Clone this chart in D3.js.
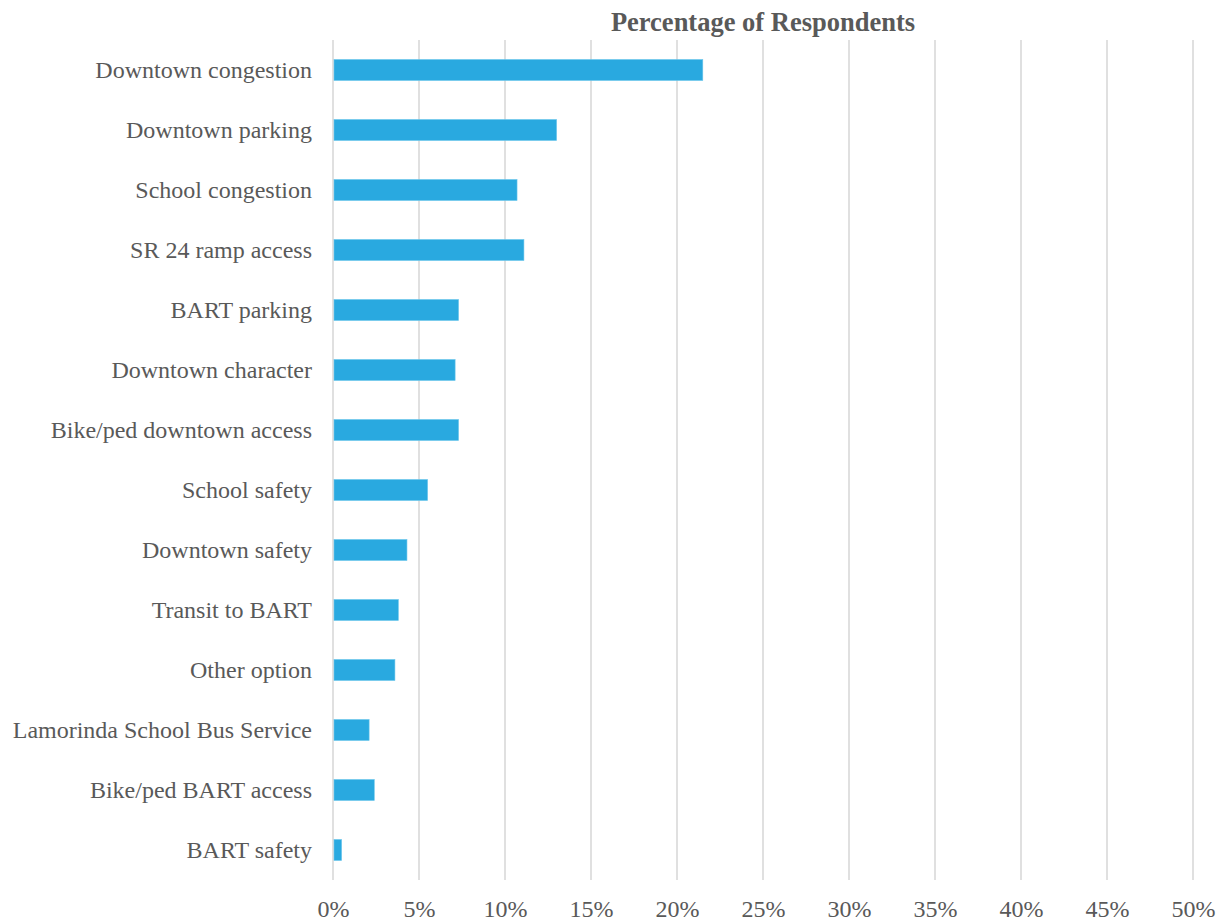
<!DOCTYPE html>
<html>
<head>
<meta charset="utf-8">
<script src="https://cdn.jsdelivr.net/npm/d3@7"></script>
<style>
  html, body { margin: 0; padding: 0; background: #ffffff; }
  svg { display: block; }
</style>
</head>
<body>
<svg id="chart" width="1223" height="923"></svg>
<script>
// Survey responses: share of respondents naming each issue
const categories = [
  "Downtown congestion",
  "Downtown parking",
  "School congestion",
  "SR 24 ramp access",
  "BART parking",
  "Downtown character",
  "Bike/ped downtown access",
  "School safety",
  "Downtown safety",
  "Transit to BART",
  "Other option",
  "Lamorinda School Bus Service",
  "Bike/ped BART access",
  "BART safety"
];
const percentValues = [21.5, 13.0, 10.7, 11.1, 7.3, 7.1, 7.3, 5.5, 4.3, 3.8, 3.6, 2.1, 2.4, 0.5];
const tickValues = [0, 5, 10, 15, 20, 25, 30, 35, 40, 45, 50];
const chartTitle = "Percentage of Respondents";

const svg = d3.select("#chart");
const margin = { top: 40, right: 30, bottom: 43, left: 333 };
const width = 1223, height = 923;
const innerW = 1193 - margin.left;
const innerH = height - margin.top - margin.bottom;

const textColor = "#595959";
const fontFamily = "'Liberation Serif', 'Times New Roman', serif";

const x = d3.scaleLinear().domain([0, 50]).range([0, innerW]);
const y = d3.scaleBand().domain(categories).range([0, innerH]).paddingInner(0.65).paddingOuter(0.325);

const g = svg.append("g").attr("transform", `translate(${margin.left},${margin.top})`);

// vertical gridlines
g.append("g")
  .selectAll("line")
  .data(tickValues)
  .join("line")
  .attr("x1", d => x(d)).attr("x2", d => x(d))
  .attr("y1", 0).attr("y2", innerH)
  .attr("stroke", "#d9d9d9")
  .attr("stroke-width", 1.6);

// bars
g.append("g")
  .selectAll("rect")
  .data(categories.map((c, i) => ({ c, v: percentValues[i] })))
  .join("rect")
  .attr("x", x(0) + 1)
  .attr("y", d => y(d.c))
  .attr("width", d => x(d.v) - x(0) - 1)
  .attr("height", y.bandwidth())
  .attr("fill", "#29a9e0")
  .attr("stroke", "#6cc6ec")
  .attr("stroke-width", 0.6);

// category axis (labels only)
const yAxis = g.append("g")
  .call(d3.axisLeft(y).tickSize(0).tickPadding(21));
yAxis.select(".domain").remove();
yAxis.selectAll("text")
  .attr("fill", textColor)
  .style("font-family", fontFamily)
  .style("font-size", "24px");

// percentage axis along the bottom
const xAxis = g.append("g")
  .attr("transform", `translate(0,${innerH})`)
  .call(d3.axisBottom(x).tickValues(tickValues).tickFormat(d => d + "%").tickSize(0).tickPadding(20));
xAxis.select(".domain").remove();
xAxis.selectAll("text")
  .attr("fill", textColor)
  .style("font-family", fontFamily)
  .style("font-size", "24px");

// title
svg.append("text")
  .attr("x", margin.left + innerW / 2)
  .attr("y", 31)
  .attr("text-anchor", "middle")
  .attr("fill", textColor)
  .style("font-family", fontFamily)
  .style("font-size", "26.5px")
  .style("font-weight", "bold")
  .text(chartTitle);
</script>
</body>
</html>
